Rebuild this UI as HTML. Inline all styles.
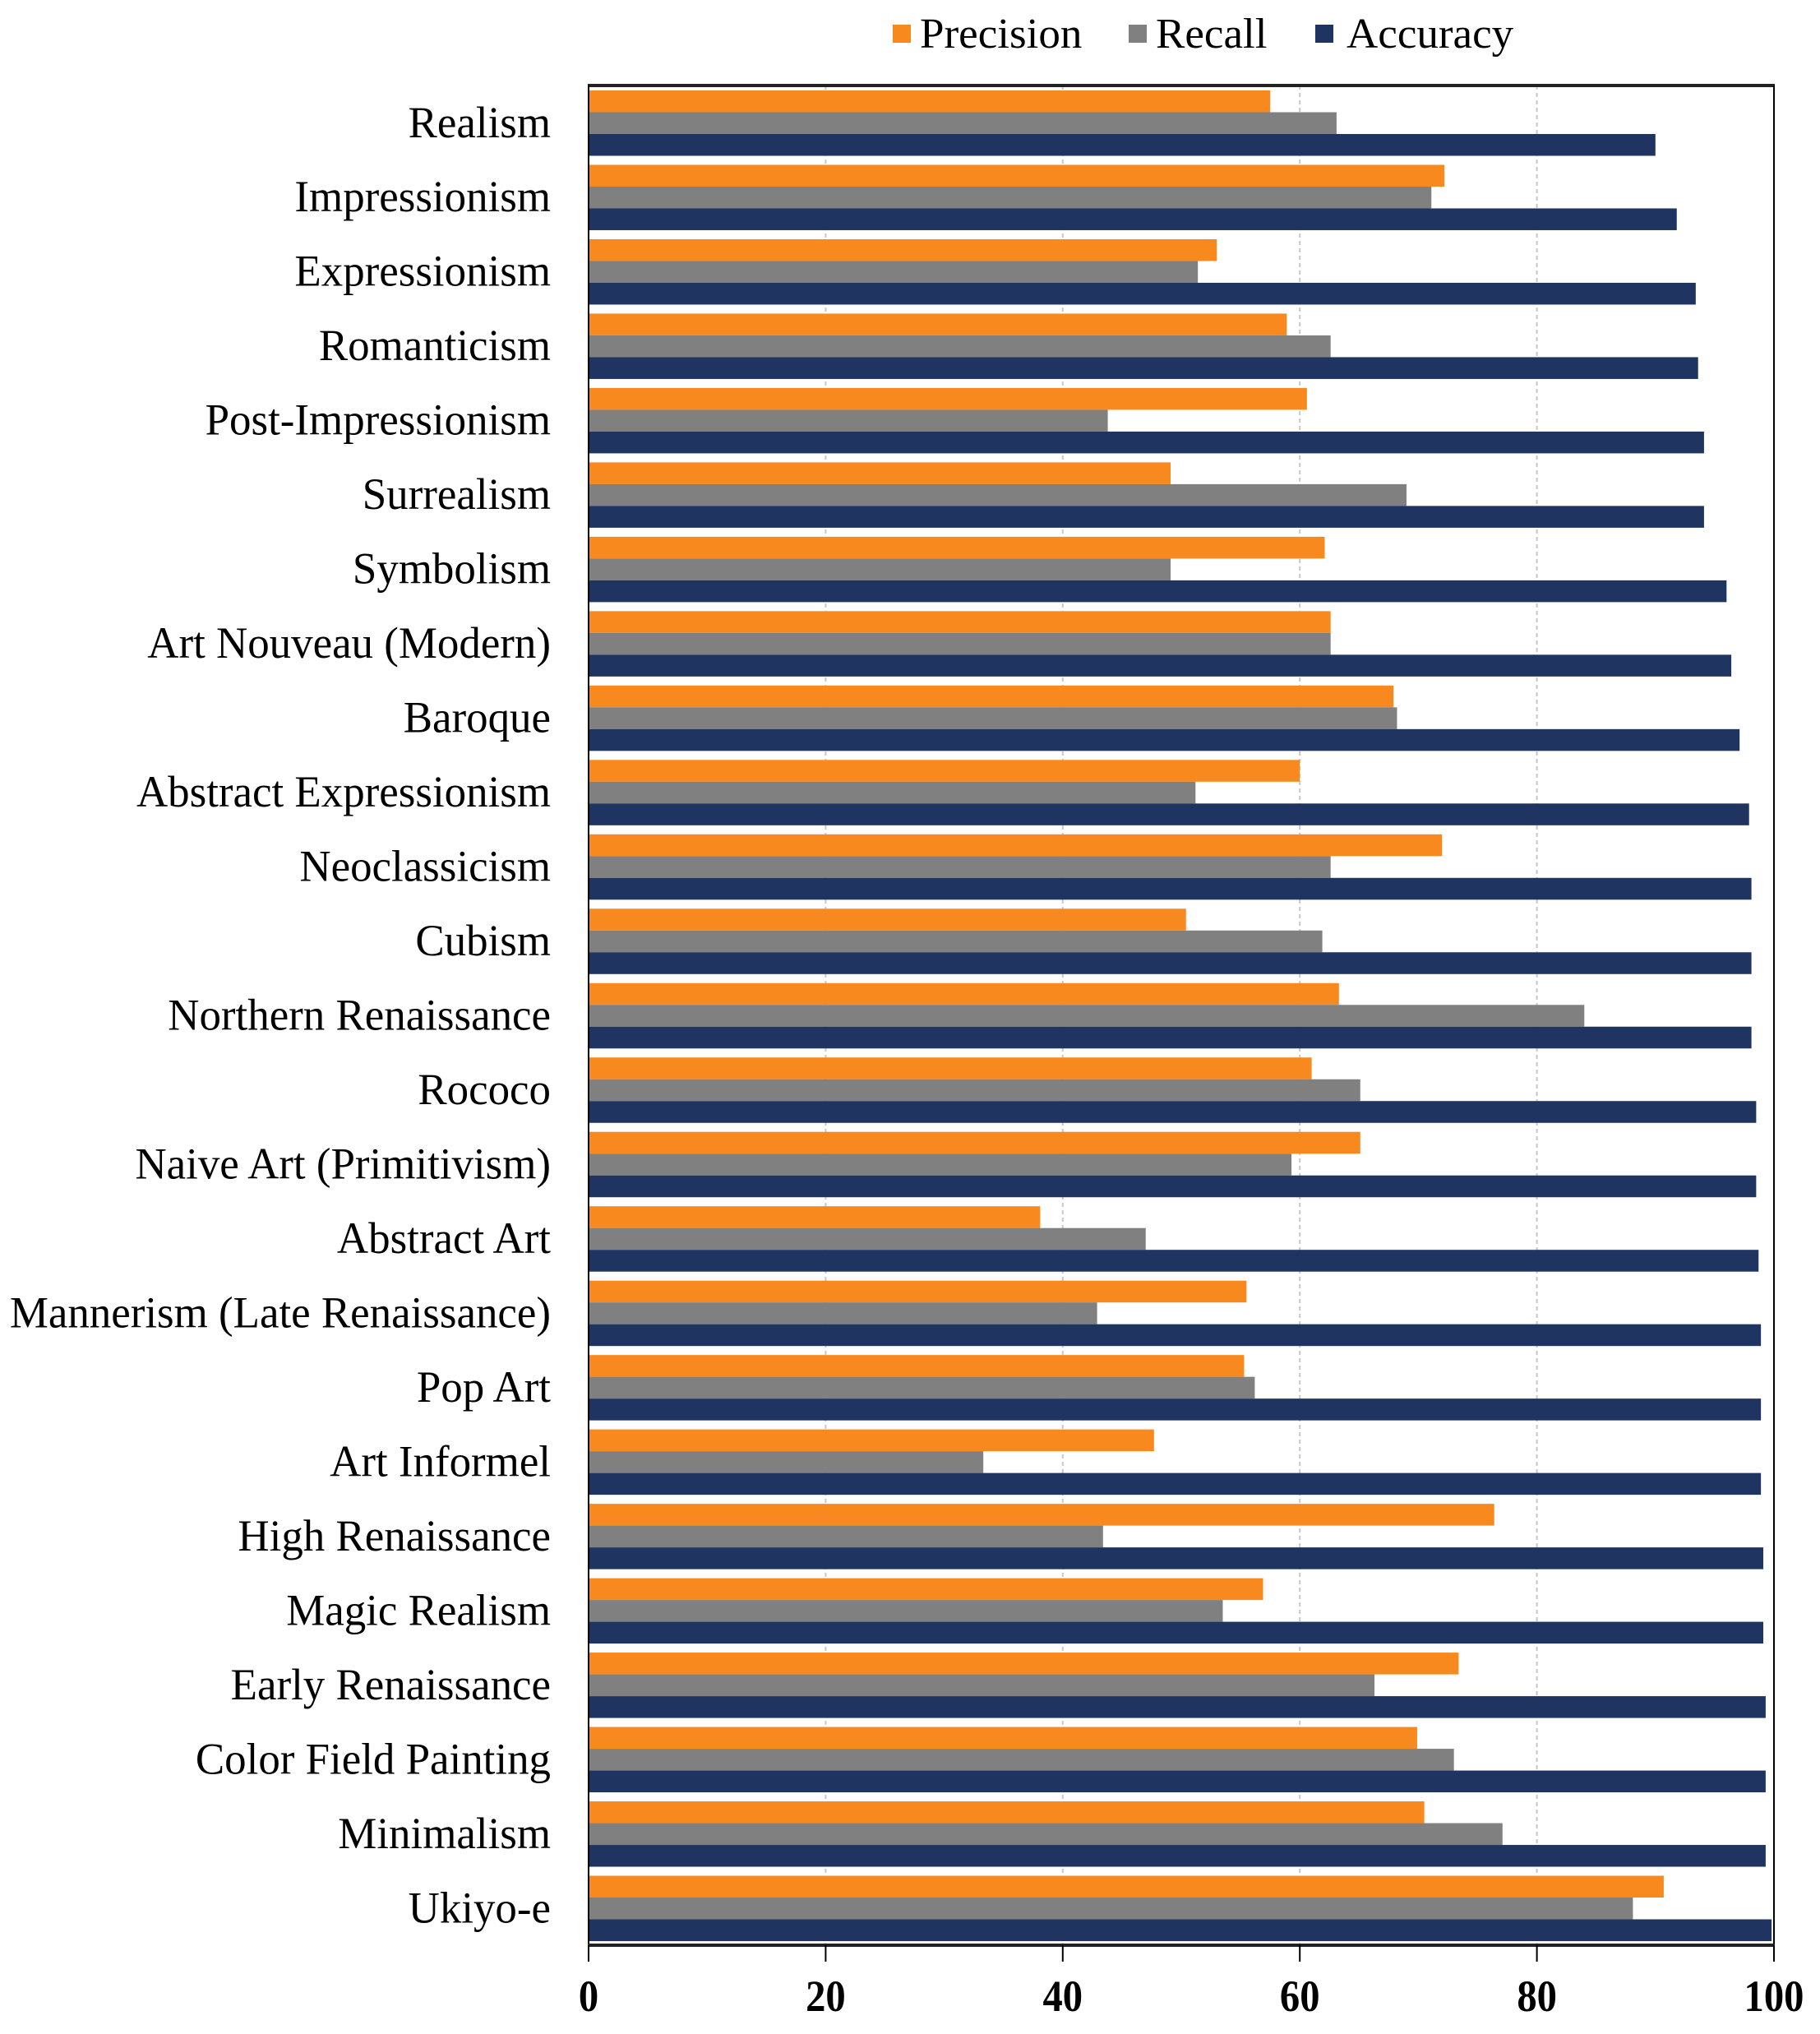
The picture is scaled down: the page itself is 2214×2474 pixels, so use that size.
<!DOCTYPE html>
<html><head><meta charset="utf-8"><style>
html,body{margin:0;padding:0;background:#fff;}
svg{display:block;}
text{font-family:"Liberation Serif",serif;fill:#000;}
</style></head>
<body>
<svg id="chart" width="2214" height="2474" viewBox="0 0 2214 2474" xmlns="http://www.w3.org/2000/svg">
<g id="grid"></g>
<g id="bars"></g>
<g id="frame"></g>
<g id="ylabels"></g>
<g id="xlabels"></g>
<g id="legend"></g>
</svg>
<script>
const categories = ["Realism","Impressionism","Expressionism","Romanticism","Post-Impressionism","Surrealism","Symbolism","Art Nouveau (Modern)","Baroque","Abstract Expressionism","Neoclassicism","Cubism","Northern Renaissance","Rococo","Naive Art (Primitivism)","Abstract Art","Mannerism (Late Renaissance)","Pop Art","Art Informel","High Renaissance","Magic Realism","Early Renaissance","Color Field Painting","Minimalism","Ukiyo-e"];
const precision = [57.5,72.2,53.0,58.9,60.6,49.1,62.1,62.6,67.9,60.0,72.0,50.4,63.3,61.0,65.1,38.1,55.5,55.3,47.7,76.4,56.9,73.4,69.9,70.5,90.7];
const recall = [63.1,71.1,51.4,62.6,43.8,69.0,49.1,62.6,68.2,51.2,62.6,61.9,84.0,65.1,59.3,47.0,42.9,56.2,33.3,43.4,53.5,66.3,73.0,77.1,88.1];
const accuracy = [90.0,91.8,93.4,93.6,94.1,94.1,96.0,96.4,97.1,97.9,98.1,98.1,98.1,98.5,98.5,98.7,98.9,98.9,98.9,99.1,99.1,99.3,99.3,99.3,99.8];
const xTicks = [0,20,40,60,80,100];
const seriesNames = ["Precision","Recall","Accuracy"];

const NS = "http://www.w3.org/2000/svg";
const X0 = 716, X1 = 2158, Y0 = 104, Y1 = 2366;
const band = (Y1 - Y0) / categories.length;
const barH = 26.5, barOff = 6;
const colors = ["#F7891F","#808080","#1F3461"];
function xs(v){ return X0 + (X1 - X0) * v / 100; }
function yb(i){ return Y0 + i * band; }
function mk(tag, attrs, parent){
  const e = document.createElementNS(NS, tag);
  for (const k in attrs) e.setAttribute(k, attrs[k]);
  parent.appendChild(e);
  return e;
}
const grid = document.getElementById('grid');
xTicks.forEach(t => {
  if (t > 0 && t < 100) {
    const l = mk('line', {x1: xs(t), x2: xs(t), y1: Y0, y2: Y1, stroke: '#c8c8c8', 'stroke-width': 2, 'stroke-dasharray': '5,4'}, grid);
    
    
  }
});
const barsG = document.getElementById('bars');
const series = [precision, recall, accuracy];
categories.forEach((c, i) => {
  series.forEach((s, k) => {
    const r = mk('rect', {x: X0, y: yb(i) + barOff + k * barH, width: xs(s[i]) - X0, height: barH, fill: colors[k]}, barsG);
    
    
  });
});
const frame = document.getElementById('frame');
mk('line', {x1: X0-1, x2: X1+1, y1: Y0, y2: Y0, stroke: '#222', 'stroke-width': 4}, frame);
mk('line', {x1: X0, x2: X0, y1: Y0, y2: Y1, stroke: '#000', 'stroke-width': 2}, frame);
mk('line', {x1: X1, x2: X1, y1: Y0, y2: Y1, stroke: '#000', 'stroke-width': 2}, frame);
mk('line', {x1: X0-1, x2: X1+1, y1: Y1, y2: Y1, stroke: '#222', 'stroke-width': 4}, frame);
xTicks.forEach(t => {
  mk('line', {x1: xs(t), x2: xs(t), y1: Y1, y2: Y1 + 20, stroke: '#000', 'stroke-width': 2}, frame);
});
const xl = document.getElementById('xlabels');
xTicks.forEach(t => {
  const tx = mk('text', {x: 0, y: 0, 'font-size': 54, 'font-weight': 'bold', 'text-anchor': 'middle', transform: 'translate(' + xs(t) + ',2446) scale(0.9,1)'}, xl);
  tx.textContent = t;
  
  
});
const yl = document.getElementById('ylabels');
categories.forEach((c, i) => {
  const cy = yb(i) + barOff + 1.5 * barH + 17;
  const tx = mk('text', {x: 0, y: 0, 'font-size': 54, 'text-anchor': 'end', transform: 'translate(670,' + cy + ') scale(0.98,1)'}, yl);
  tx.textContent = c;
  
  
});
const lg = document.getElementById('legend');
const lgPos = [[1086,1119],[1373,1406],[1600,1638]];
seriesNames.forEach((n, k) => {
  const r = mk('rect', {x: lgPos[k][0], y: 30, width: 22, height: 22, fill: colors[k]}, lg);
  
  
  const tx = mk('text', {x: 0, y: 0, 'font-size': 52, transform: 'translate(' + lgPos[k][1] + ',58) scale(1.02,1)'}, lg);
  tx.textContent = n;
  
  
});
</script>
</body></html>
